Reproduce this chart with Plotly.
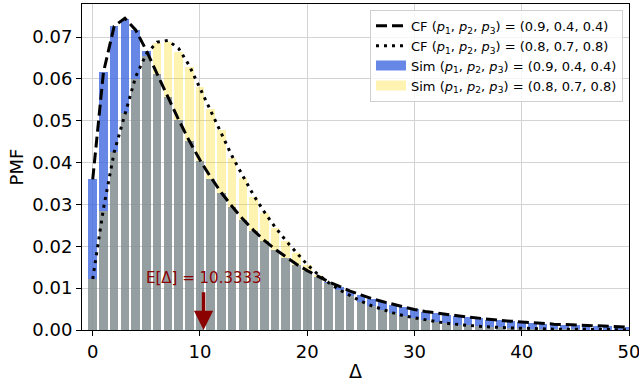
import plotly.graph_objects as go

# Delta support
delta = list(range(0, 51))

# Closed-form PMF, (p1,p2,p3) = (0.9,0.4,0.4)
cf_a = [0.0360, 0.0616, 0.0726, 0.0745, 0.0717, 0.0668, 0.0612, 0.0556, 0.0503, 0.0452,
        0.0406, 0.0365, 0.0328, 0.0295, 0.0265, 0.0238, 0.0214, 0.0193, 0.0174, 0.0157,
        0.0142, 0.0128, 0.0115, 0.0104, 0.0093, 0.0084, 0.0075, 0.0068, 0.0061, 0.0055,
        0.0049, 0.0044, 0.0041, 0.0037, 0.0034, 0.0031, 0.0028, 0.0026, 0.0023, 0.0021,
        0.0019, 0.0017, 0.0016, 0.0014, 0.0013, 0.0012, 0.0011, 0.0010, 0.0009, 0.0008,
        0.0007]

# Closed-form PMF, (p1,p2,p3) = (0.8,0.7,0.8)
cf_b = [0.0122, 0.0290, 0.0425, 0.0515, 0.0605, 0.0660, 0.0688, 0.0692, 0.0673, 0.0632,
        0.0577, 0.0525, 0.0466, 0.0415, 0.0368, 0.0322, 0.0282, 0.0246, 0.0214, 0.0185,
        0.0156, 0.0133, 0.0113, 0.0096, 0.0082, 0.0069, 0.0058, 0.0049, 0.0041, 0.0034,
        0.0029, 0.0024, 0.0020, 0.0016, 0.0013, 0.0011, 0.0009, 0.0007, 0.0006, 0.0005,
        0.0004, 0.0003, 0.0003, 0.0002, 0.0002, 0.00015, 0.0001, 0.0001, 0.0001, 0.00005,
        0.00005]

# Simulated PMFs (bar heights)
sim_a = [0.0360, 0.0616, 0.0726, 0.0743, 0.0717, 0.0667, 0.0611, 0.0556, 0.0502, 0.0451,
         0.0404, 0.0362, 0.0327, 0.0294, 0.0264, 0.0237, 0.0213, 0.0192, 0.0173, 0.0156,
         0.0141, 0.0127, 0.0114, 0.0103, 0.0093, 0.0083, 0.0075, 0.0067, 0.0060, 0.0054,
         0.0049, 0.0044, 0.0040, 0.0036, 0.0033, 0.0030, 0.0028, 0.0025, 0.0023, 0.0021,
         0.0019, 0.0017, 0.0015, 0.0014, 0.0013, 0.0012, 0.0011, 0.0010, 0.0009, 0.0008,
         0.0007]
sim_b = [0.0122, 0.0285, 0.0425, 0.0518, 0.0600, 0.0655, 0.0685, 0.0688, 0.0664, 0.0628,
         0.0580, 0.0528, 0.0478, 0.0412, 0.0364, 0.0318, 0.0280, 0.0244, 0.0212, 0.0183,
         0.0155, 0.0132, 0.0112, 0.0095, 0.0081, 0.0068, 0.0057, 0.0048, 0.0040, 0.0034,
         0.0028, 0.0023, 0.0019, 0.0016, 0.0013, 0.0011, 0.0009, 0.0007, 0.0006, 0.0005,
         0.0004, 0.0003, 0.0003, 0.0002, 0.0002, 0.00015, 0.0001, 0.0001, 0.0001, 0.00005,
         0.00005]

mean_delta = 10.3333
x_ticks = [0, 10, 20, 30, 40, 50]
y_ticks = [0.00, 0.01, 0.02, 0.03, 0.04, 0.05, 0.06, 0.07]

P = "(<i>p</i><sub>1</sub>, <i>p</i><sub>2</sub>, <i>p</i><sub>3</sub>)"
name_a = "(0.9, 0.4, 0.4)"
name_b = "(0.8, 0.7, 0.8)"

BLUE = "rgba(65,105,225,0.8)"
GOLD = "rgba(255,215,0,0.3)"
FONT = "DejaVu Sans"

fig = go.Figure()
fig.add_trace(go.Bar(x=delta, y=sim_a, width=0.8, marker=dict(color=BLUE, line=dict(width=0)),
                     showlegend=False))
fig.add_trace(go.Bar(x=delta, y=sim_b, width=0.8, marker=dict(color=GOLD, line=dict(width=0)),
                     showlegend=False))
fig.add_trace(go.Scatter(x=delta, y=cf_a, mode="lines",
                         line=dict(color="black", width=3, dash="11px,5px"),
                         name=f"CF {P} = {name_a}", legendrank=1))
fig.add_trace(go.Scatter(x=delta, y=cf_b, mode="lines",
                         line=dict(color="black", width=3, dash="3px,5px"),
                         name=f"CF {P} = {name_b}", legendrank=2))
# legend patches for the bars
fig.add_trace(go.Scatter(x=[None], y=[None], mode="lines", line=dict(color=BLUE, width=10),
                         name=f"Sim {P} = {name_a}", legendrank=3))
fig.add_trace(go.Scatter(x=[None], y=[None], mode="lines", line=dict(color=GOLD, width=10),
                         name=f"Sim {P} = {name_b}", legendrank=4))

fig.add_annotation(x=mean_delta, y=0, ax=mean_delta, ay=0.0094, xref="x", yref="y",
                   axref="x", ayref="y", text="", showarrow=True, arrowhead=2,
                   arrowsize=1.1, arrowwidth=3.5, arrowcolor="#8b0000")
fig.add_annotation(x=mean_delta, y=0.0124, xref="x", yref="y", text=f"E[Δ] = {mean_delta}",
                   showarrow=False, font=dict(family=FONT, size=15, color="#8b0000"))

fig.update_layout(
    width=639, height=383,
    margin=dict(l=82, r=10, t=4, b=53),
    paper_bgcolor="white", plot_bgcolor="white",
    barmode="overlay", bargap=0,
    font=dict(family=FONT, color="black"),
    legend=dict(x=0.989, y=0.982, xanchor="right", yanchor="top",
                bgcolor="rgba(255,255,255,0.8)", bordercolor="#d0d0d0", borderwidth=1,
                font=dict(family=FONT, size=13), itemwidth=30, tracegroupgap=0),
    xaxis=dict(range=[-1, 50], tickvals=x_ticks, ticks="outside", ticklen=5, tickcolor="black",
               showgrid=True, gridcolor="#d3d3d3", gridwidth=1, zeroline=False,
               showline=True, linecolor="black", linewidth=1, mirror=True,
               automargin=False, ticklabeloverflow="allow",
               tickfont=dict(family=FONT, size=18),
               title=dict(text="Δ", font=dict(family=FONT, size=19), standoff=4)),
    yaxis=dict(range=[0, 0.0779], tickvals=y_ticks, tickformat=".2f", ticks="outside", ticklen=5,
               tickcolor="black", showgrid=True, gridcolor="#d3d3d3", gridwidth=1, zeroline=False,
               showline=True, linecolor="black", linewidth=1, mirror=True,
               automargin=False, ticklabeloverflow="allow",
               tickfont=dict(family=FONT, size=18),
               title=dict(text="PMF", font=dict(family=FONT, size=18), standoff=4)),
)

fig.write_html("out.html", config={"displayModeBar": False},
               post_script="document.body.style.margin='0';document.body.style.overflow='hidden';")
